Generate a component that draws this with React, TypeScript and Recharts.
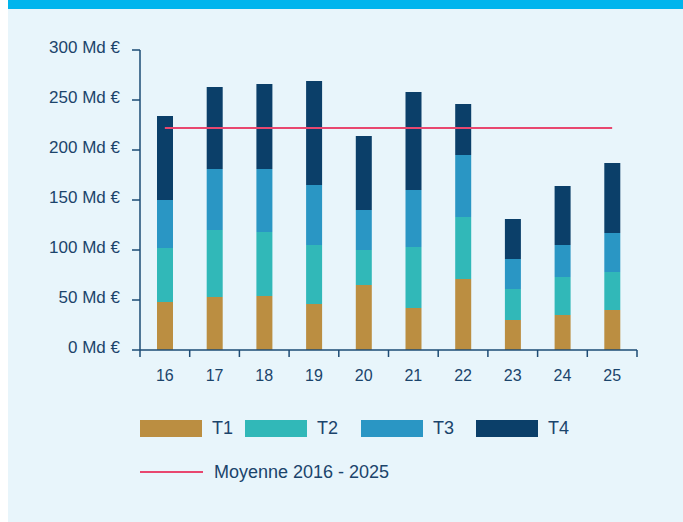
import { Bar, ComposedChart, Legend, Line, XAxis, YAxis } from "recharts";

// années (2016 → 2025), montants trimestriels en Md €
const annees = ["16", "17", "18", "19", "20", "21", "22", "23", "24", "25"];
const t1 = [48, 53, 54, 46, 65, 42, 71, 30, 35, 40];
const t2 = [54, 67, 64, 59, 35, 61, 62, 31, 38, 38];
const t3 = [48, 61, 63, 60, 40, 57, 62, 30, 32, 39];
const t4 = [84, 82, 85, 104, 74, 98, 51, 40, 59, 70];
const moyenne = 222;
const yTicks = [0, 50, 100, 150, 200, 250, 300];

const data = annees.map((annee, i) => ({
  annee,
  T1: t1[i],
  T2: t2[i],
  T3: t3[i],
  T4: t4[i],
  moyenne,
}));

const series = [
  { key: "T1", color: "#bb8e41" },
  { key: "T2", color: "#31b8b8" },
  { key: "T3", color: "#2a96c4" },
  { key: "T4", color: "#0b3f69" },
];
const legendWidths = [105, 116, 115, 80];

const AXE = "#1d4b74";
const TEXTE = "#1b446b";
const ROSE = "#e8476f";
const FONT = '"Liberation Sans", Arial, sans-serif';

function XTick(props: any) {
  const { x, y, payload, index, width, visibleTicksCount } = props;
  const band = width && visibleTicksCount ? width / visibleTicksCount : 49.7;
  const left = x - band / 2;
  return (
    <g>
      <line x1={left} x2={left} y1={y - 7} y2={y} stroke={AXE} strokeWidth={1.5} />
      {index === annees.length - 1 && (
        <line x1={x + band / 2} x2={x + band / 2} y1={y - 7} y2={y} stroke={AXE} strokeWidth={1.5} />
      )}
      <text x={x} y={y + 24} textAnchor="middle" fill={TEXTE} fontSize={16} fontFamily={FONT}>
        {payload.value}
      </text>
    </g>
  );
}

function YTick(props: any) {
  const { x, y, payload } = props;
  return (
    <text x={x} y={y + 3} textAnchor="end" fill={TEXTE} fontSize={17} fontFamily={FONT}>
      {`${payload.value} Md €`}
    </text>
  );
}

function Legende() {
  return (
    <div style={{ fontFamily: FONT, color: TEXTE, fontSize: 18 }}>
      <div style={{ display: "flex", height: 17 }}>
        {series.map((s, i) => (
          <div key={s.key} style={{ display: "flex", alignItems: "center", width: legendWidths[i] }}>
            <span style={{ width: 62, height: 17, background: s.color, marginRight: 10, flex: "none" }} />
            <span>{s.key}</span>
          </div>
        ))}
      </div>
      <div style={{ display: "flex", alignItems: "center", height: 22, marginTop: 24 }}>
        <span style={{ width: 63, height: 2, background: ROSE, marginRight: 11, flex: "none" }} />
        <span>Moyenne 2016 - 2025</span>
      </div>
    </div>
  );
}

export default function App() {
  return (
    <div style={{ position: "absolute", left: 0, top: 0, width: 683, height: 522 }}>
      <div style={{ position: "absolute", left: 8, top: 0, width: 675, height: 522, background: "#e8f5fb" }}>
        <div style={{ height: 9, background: "#00b5ed" }} />
      </div>
      <div style={{ position: "absolute", left: 0, top: 0 }}>
        <ComposedChart
          width={683}
          height={522}
          data={data}
          margin={{ top: 50, right: 46, bottom: 142, left: 0 }}
        >
          <XAxis
            dataKey="annee"
            height={30}
            axisLine={{ stroke: AXE, strokeWidth: 1.5 }}
            tickLine={false}
            tickSize={7}
            tickMargin={0}
            tick={<XTick />}
            interval={0}
          />
          <YAxis
            width={140}
            domain={[0, 300]}
            ticks={yTicks}
            axisLine={{ stroke: AXE, strokeWidth: 1.5 }}
            tickLine={{ stroke: AXE, strokeWidth: 1.5 }}
            tickSize={8}
            tickMargin={12}
            tick={<YTick />}
            interval={0}
          />
          {series.map((s) => (
            <Bar
              key={s.key}
              dataKey={s.key}
              stackId="a"
              fill={s.color}
              barSize={16}
              isAnimationActive={false}
            />
          ))}
          <Line
            dataKey="moyenne"
            stroke={ROSE}
            strokeWidth={2}
            dot={false}
            activeDot={false}
            isAnimationActive={false}
          />
          <Legend
            layout="horizontal"
            verticalAlign="middle"
            align="center"
            content={<Legende />}
            wrapperStyle={{ left: 140, top: 420, width: 520, height: "auto" }}
          />
        </ComposedChart>
      </div>
    </div>
  );
}
